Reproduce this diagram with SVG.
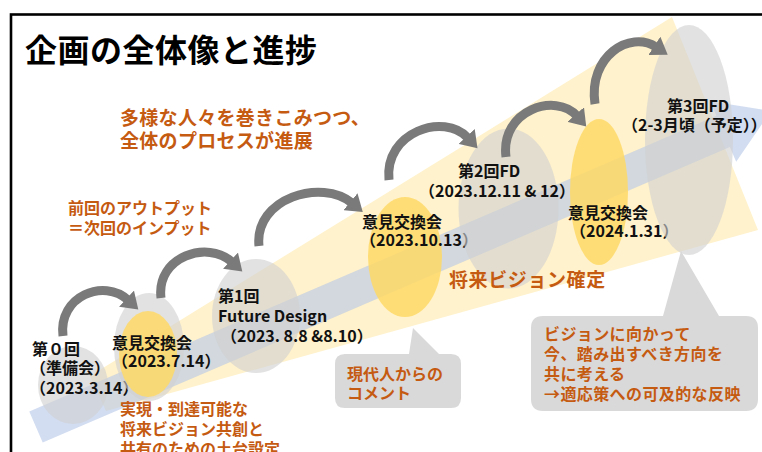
<svg xmlns="http://www.w3.org/2000/svg" width="762" height="452" viewBox="0 0 762 452">
<defs>
<style>
text{font-family:"Noto Sans CJK JP","Noto Sans",sans-serif;font-weight:700}
.lbl{font-size:16px;fill:#111}
.org{fill:#c55a11}
.gray{fill:#d0d0d0;fill-opacity:0.62}
.yel{fill:#ffd966;fill-opacity:0.85}
.conn{fill:none;stroke:#7a7a7a;stroke-width:9;marker-end:url(#ah)}
.call{fill:#d9d9d9}
</style>
<marker id="ah" markerUnits="userSpaceOnUse" markerWidth="20" markerHeight="22" refX="2" refY="11" orient="auto">
<path d="M0,0 L16,11 L0,22 Z" fill="#7a7a7a"/>
</marker>
</defs>
<rect x="0" y="0" width="762" height="452" fill="#fff"/>
<rect x="11" y="14.5" width="800" height="500" fill="none" stroke="#000" stroke-width="2.6"/>
<text x="25" y="62" font-size="32" letter-spacing="0.5" fill="#000">企画の全体像と進捗</text>

<g id="funnel">
<polygon points="672,17 758,230 106,411 90,376" fill="#fff2cc"/>
</g>
<g id="progress-arrow">
<polygon transform="translate(36,427) rotate(-23.27)" points="0,-17 748,-17 748,-33 800,0 748,33 748,17 0,17" fill="#b4c7e7" fill-opacity="0.6"/>
</g>

<g id="n0">
<ellipse class="gray" cx="73" cy="385" rx="35" ry="39"/>
<text class="lbl" x="32" y="355">第０回</text>
<text class="lbl" x="30" y="374">（準備会）</text>
<text class="lbl" x="30" y="394">（2023.3.14）</text>
</g>
<g id="n1">
<ellipse class="gray" cx="149" cy="347" rx="35" ry="54"/>
<ellipse class="yel" cx="148" cy="354" rx="29" ry="43"/>
<text class="lbl" x="112" y="349">意見交換会</text>
<text class="lbl" x="112" y="367">（2023.7.14）</text>
</g>
<g id="n2">
<ellipse class="gray" cx="256" cy="316" rx="44" ry="57"/>
<text class="lbl" x="218" y="302">第1回</text>
<text class="lbl" x="218" y="322" font-size="16.5">Future Design</text>
<text class="lbl" x="221" y="342">（2023. 8.8 &amp;8.10）</text>
</g>
<g id="n3">
<ellipse class="yel" cx="405" cy="257" rx="37" ry="60"/>
<text class="lbl" x="362" y="228">意見交換会</text>
<text class="lbl" x="360" y="246">（2023.10.13）</text>
</g>
<g id="n4">
<ellipse class="gray" cx="508.5" cy="208.5" rx="50" ry="80"/>
<text class="lbl" x="458" y="177">第2回FD</text>
<text class="lbl" x="419" y="197">（2023.12.11 &amp; 12）</text>
</g>
<g id="n5">
<ellipse class="yel" cx="599" cy="192" rx="29" ry="73"/>
<text class="lbl" x="568" y="219">意見交換会</text>
<text class="lbl" x="570" y="237">（2024.1.31）</text>
</g>
<g id="n6">
<ellipse class="gray" cx="689" cy="140" rx="44" ry="115"/>
<text class="lbl" x="667" y="112">第3回FD</text>
<text class="lbl" x="622" y="131">（2-3月頃（予定））</text>
</g>

<g id="connectors">
<path class="conn" d="M63,336 C58,296 104,278 128,300"/>
<path class="conn" d="M161,298 C156,256 208,240 232,262"/>
<path class="conn" d="M259,246 C254,198 322,178 352,203"/>
<path class="conn" d="M389,180 C384,132 444,112 468,138"/>
<path class="conn" d="M506,157 C500,110 556,92 577,116"/>
<path class="conn" d="M595,104 C588,56 630,30 656,47"/>
</g>

<g id="callout-comment">
<path class="call" d="M345,354 L409,354 L413,328 L439,354 L451,354 Q461,354 461,364 L461,398 Q461,408 451,408 L345,408 Q335,408 335,398 L335,364 Q335,354 345,354 Z"/>
<text class="org" x="347" y="380" font-size="16">現代人からの</text>
<text class="org" x="347" y="399" font-size="16">コメント</text>
</g>
<g id="callout-vision">
<path class="call" d="M543,316 L663,316 L681,251 L719,316 L746,316 Q758,316 758,328 L758,399 Q758,411 746,411 L543,411 Q531,411 531,399 L531,328 Q531,316 543,316 Z"/>
<text class="org" x="544" y="340" font-size="16" letter-spacing="0.4">ビジョンに向かって</text>
<text class="org" x="544" y="360" font-size="16" letter-spacing="0.4">今、踏み出すべき方向を</text>
<text class="org" x="544" y="380" font-size="16" letter-spacing="0.4">共に考える</text>
<text class="org" x="544" y="400" font-size="16" letter-spacing="0.4">→適応策への可及的な反映</text>
</g>

<g id="notes">
<text class="org" x="120" y="125" font-size="19" letter-spacing="0.3">多様な人々を巻きこみつつ、</text>
<text class="org" x="120" y="148" font-size="19" letter-spacing="0.3">全体のプロセスが進展</text>
<text class="org" x="68" y="214" font-size="16">前回のアウトプット</text>
<text class="org" x="68" y="234" font-size="16">＝次回のインプット</text>
<text class="org" x="449" y="287" font-size="19" letter-spacing="0.6">将来ビジョン確定</text>
<text class="org" x="120" y="415" font-size="16">実現・到達可能な</text>
<text class="org" x="120" y="435" font-size="16">将来ビジョン共創と</text>
<text class="org" x="120" y="455" font-size="16">共有のための土台設定</text>
</g>
</svg>
